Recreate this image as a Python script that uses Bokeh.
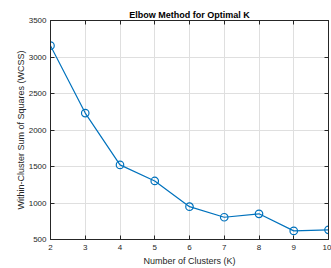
from bokeh.plotting import figure
from bokeh.models import Range1d, LinearAxis, FixedTicker
from bokeh.embed import file_html
from bokeh.resources import INLINE

k_values = [2, 3, 4, 5, 6, 7, 8, 9, 10]
wcss = [3155, 2232, 1522, 1302, 950, 805, 852, 618, 632]
x_ticks = [2, 3, 4, 5, 6, 7, 8, 9, 10]
y_ticks = [500, 1000, 1500, 2000, 2500, 3000, 3500]

FONT = "Liberation Sans"
TXT = "#262626"
BLUE = "#0072BD"

p = figure(width=331, height=268, output_backend="svg", toolbar_location=None,
           x_range=Range1d(2, 10), y_range=Range1d(500, 3500),
           min_border_left=50, min_border_right=3, min_border_top=20, min_border_bottom=28,
           background_fill_color="white", border_fill_color="white")

p.title.text = "Elbow Method for Optimal K"
p.title.text_font = FONT
p.title.text_font_size = "9px"
p.title.text_font_style = "bold"
p.title.text_color = "black"
p.title.align = "center"
p.title.standoff = 2
p.title.offset = 0

p.outline_line_color = TXT
p.outline_line_width = 1
p.outline_line_alpha = 1

for ax in (p.xaxis[0], p.yaxis[0]):
    ax.major_tick_in = 4
    ax.major_tick_out = 0
    ax.minor_tick_in = 0
    ax.minor_tick_out = 0
    ax.axis_line_color = TXT
    ax.major_tick_line_color = TXT
    ax.major_label_text_font = FONT
    ax.major_label_text_font_size = "8px"
    ax.major_label_text_color = TXT
    ax.axis_label_text_font = FONT
    ax.axis_label_text_font_size = "9px"
    ax.axis_label_text_font_style = "normal"
    ax.axis_label_text_color = TXT

p.xaxis.ticker = FixedTicker(ticks=x_ticks)
p.yaxis.ticker = FixedTicker(ticks=y_ticks)
p.xaxis.axis_label = "Number of Clusters (K)"
p.yaxis.axis_label = "Within-Cluster Sum of Squares (WCSS)"
p.xaxis.major_label_standoff = 5
p.yaxis.major_label_standoff = 4
p.xaxis.axis_label_standoff = 3
p.yaxis.axis_label_standoff = 0

# mirrored ticks on top and right (box on)
top = LinearAxis(ticker=FixedTicker(ticks=x_ticks), major_label_text_font_size="0px",
                 major_tick_in=4, major_tick_out=0, minor_tick_in=0, minor_tick_out=0,
                 axis_line_color=TXT, major_tick_line_color=TXT, major_label_standoff=0)
right = LinearAxis(ticker=FixedTicker(ticks=y_ticks), major_label_text_font_size="0px",
                   major_tick_in=4, major_tick_out=0, minor_tick_in=0, minor_tick_out=0,
                   axis_line_color=TXT, major_tick_line_color=TXT, major_label_standoff=0)
top.major_label_overrides = {t: "" for t in x_ticks}
right.major_label_overrides = {t: "" for t in y_ticks}
p.add_layout(top, "above")
p.add_layout(right, "right")

p.xgrid.ticker = FixedTicker(ticks=x_ticks)
p.ygrid.ticker = FixedTicker(ticks=y_ticks)
p.grid.grid_line_color = "#dfdfdf"
p.grid.grid_line_width = 1

p.line(k_values, wcss, line_color=BLUE, line_width=1.2)
p.scatter(k_values, wcss, marker="circle", size=7.5, fill_color=None,
          line_color=BLUE, line_width=1.2)

open("out.html", "w").write(file_html(p, INLINE))
